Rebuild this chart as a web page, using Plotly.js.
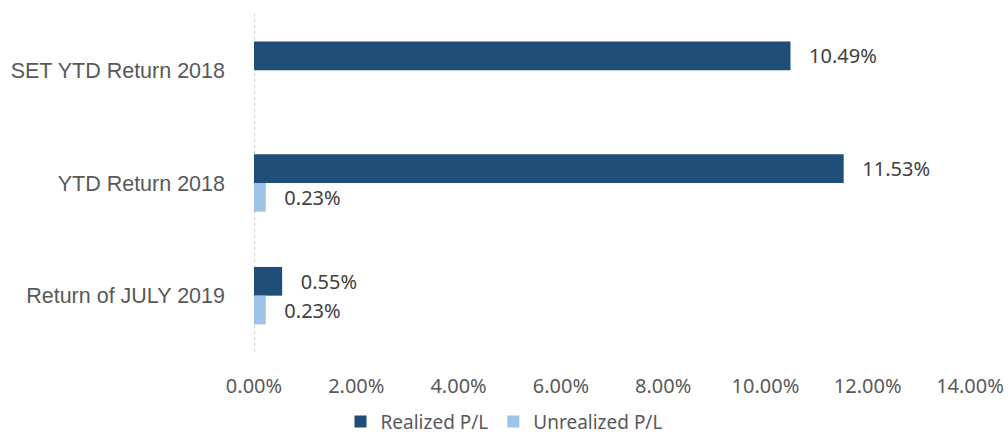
<!DOCTYPE html>
<html>
<head>
<meta charset="utf-8">
<script src="https://cdn.plot.ly/plotly-3.0.1.min.js"></script>
<style>html,body{margin:0;padding:0;background:#fff}#chart{width:1008px;height:437px}</style>
</head>
<body>
<div id="chart"></div>
<script>
const categories = ["SET YTD Return 2018", "YTD Return 2018", "Return of JULY 2019"];
const realized = [10.49, 11.53, 0.55];
const unrealized = [null, 0.23, 0.23];
const seriesNames = ["Realized P/L", "Unrealized P/L"];
const xTickValues = [0, 2, 4, 6, 8, 10, 12, 14];
const xTickLabels = ["0.00%", "2.00%", "4.00%", "6.00%", "8.00%", "10.00%", "12.00%", "14.00%"];

const labelFont = {family: "Noto Sans, sans-serif", size: 20, color: "#404040"};
const pad = "\u00a0\u00a0\u00a0";

const traces = [
  {
    type: "bar", orientation: "h", name: seriesNames[0],
    y: categories, x: realized,
    marker: {color: "#1F4E79"},
    text: realized.map(v => v == null ? "" : pad + v.toFixed(2) + "%"),
    textposition: "outside", textfont: labelFont, cliponaxis: false,
    constraintext: "none", hoverinfo: "skip"
  },
  {
    type: "bar", orientation: "h", name: seriesNames[1],
    y: categories, x: unrealized,
    marker: {color: "#9DC3E6"},
    text: unrealized.map(v => v == null ? "" : pad + v.toFixed(2) + "%"),
    textposition: "outside", textfont: labelFont, cliponaxis: false,
    constraintext: "none", hoverinfo: "skip"
  }
];

const layout = {
  width: 1008, height: 437,
  margin: {l: 254, r: 38, t: 14, b: 85},
  paper_bgcolor: "#fff", plot_bgcolor: "#fff",
  barmode: "group", bargap: 0.49, bargroupgap: 0,
  showlegend: true,
  legend: {
    orientation: "h", x: 0.5, xref: "container", xanchor: "center",
    y: 0.035, yref: "container", yanchor: "middle",
    font: {family: "Noto Sans, sans-serif", size: 19, color: "#595959"},
    traceorder: "normal"
  },
  xaxis: {
    range: [0, 14], tickvals: xTickValues, ticktext: xTickLabels,
    showgrid: false, zeroline: false, showline: false, ticks: "",
    ticklabelstandoff: 20, automargin: false,
    tickfont: {family: "Noto Sans, sans-serif", size: 20, color: "#595959"}
  },
  yaxis: {
    autorange: "reversed", type: "category",
    showgrid: false, zeroline: false, showline: false, ticks: "",
    ticklabelstandoff: 28, automargin: false,
    tickfont: {family: "Liberation Sans, Arial, sans-serif", size: 21.5, color: "#595959"}
  },
  shapes: [{
    type: "line", xref: "x", yref: "paper", x0: 0, x1: 0, y0: 0, y1: 1,
    line: {color: "#a6a6a6", width: 1, dash: "dot"}, layer: "below"
  }]
};

Plotly.newPlot("chart", traces, layout, {displayModeBar: false, staticPlot: true});
</script>
</body>
</html>
